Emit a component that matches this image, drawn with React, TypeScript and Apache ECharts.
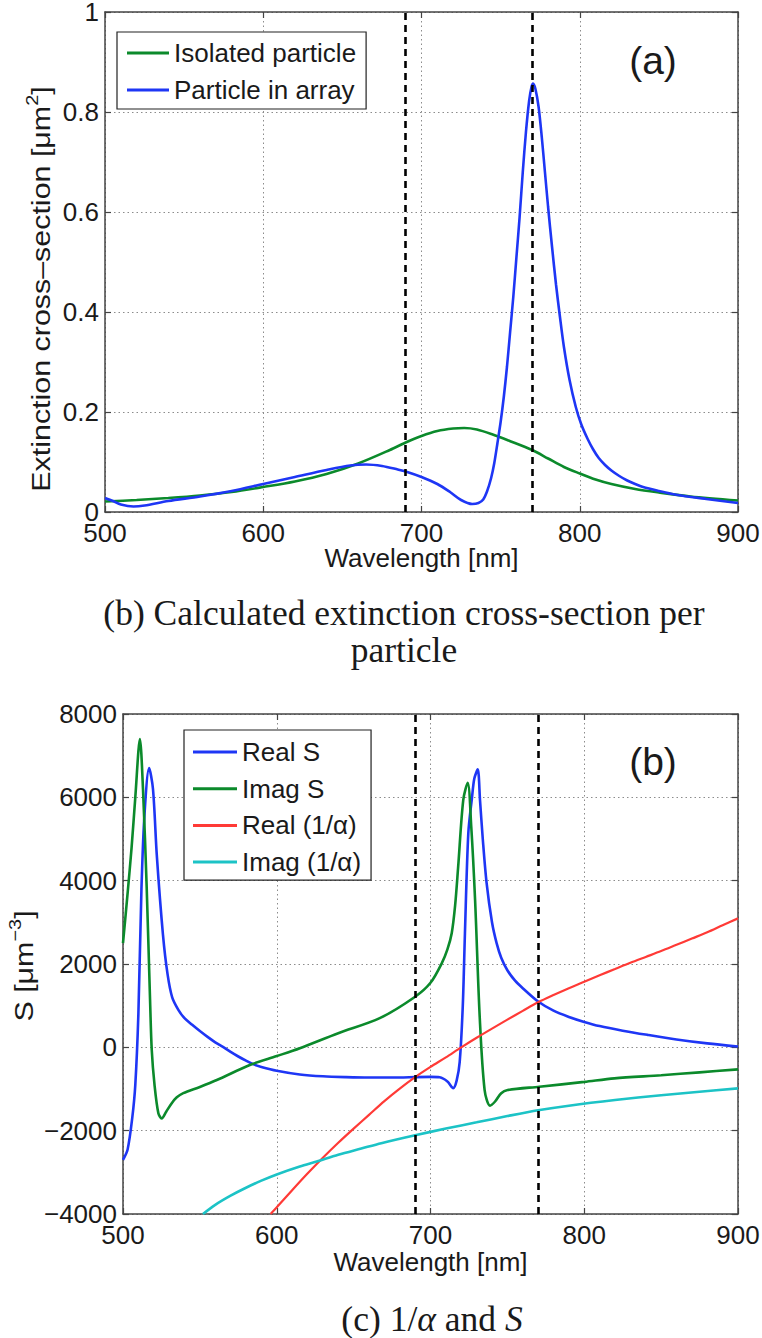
import React, { useEffect, useRef } from 'react';
import * as echarts from 'echarts';

// ---------- data ----------
const markerWavelengths = [690, 770];

// (a) extinction cross-section
const isolatedWl = [500, 520, 540, 560, 580, 600, 620, 640, 660, 680, 690, 700, 710, 720, 727, 735, 745, 755, 770, 780, 790, 800, 810, 820, 835, 850, 870, 900];
const isolatedExt = [0.021, 0.024, 0.028, 0.033, 0.040, 0.050, 0.061, 0.076, 0.097, 0.124, 0.139, 0.152, 0.162, 0.167, 0.168, 0.165, 0.155, 0.143, 0.124, 0.107, 0.090, 0.077, 0.065, 0.056, 0.046, 0.039, 0.031, 0.023];

const arrayWl = [500, 505, 510, 518, 525, 540, 560, 580, 600, 620, 640, 655, 665, 675, 685, 690, 700, 710, 718, 725, 732, 736, 739, 741.5, 744, 746, 748, 750, 752, 754, 756, 758, 760, 762, 764, 766, 768, 769.5, 770.5, 772, 774, 776, 778, 780, 782.5, 785, 787.5, 790, 793.5, 797.5, 801, 805, 808.5, 812, 816, 820, 825, 830, 835, 840, 850, 860, 880, 900];
const arrayExt = [0.028, 0.022, 0.015, 0.011, 0.013, 0.022, 0.031, 0.042, 0.056, 0.070, 0.084, 0.093, 0.095, 0.092, 0.085, 0.081, 0.070, 0.056, 0.040, 0.024, 0.016, 0.018, 0.025, 0.042, 0.068, 0.098, 0.138, 0.180, 0.230, 0.290, 0.360, 0.430, 0.510, 0.590, 0.680, 0.760, 0.822, 0.850, 0.857, 0.846, 0.810, 0.750, 0.680, 0.610, 0.530, 0.455, 0.390, 0.330, 0.265, 0.210, 0.175, 0.146, 0.125, 0.108, 0.094, 0.083, 0.072, 0.063, 0.056, 0.050, 0.042, 0.035, 0.026, 0.018];

// (b) lattice sum S and inverse polarizability
const realSWl = [500, 503, 506, 508, 510, 512, 514, 517, 519.5, 522, 526, 529, 532, 536, 540, 545, 550, 555, 560, 565, 570, 575, 580, 585, 590, 600, 615, 630, 645, 660, 680, 690, 700, 706, 711, 714.8, 717, 719, 721, 722.4, 724.6, 727, 728.5, 730.7, 732.2, 734, 736.5, 740, 743, 746, 750, 755, 760, 770, 780, 790, 800, 810, 825, 841, 860, 880, 900];
const realS = [-2700, -2450, -1700, -900, 800, 3800, 5600, 6700, 6200, 4600, 2700, 1750, 1200, 900, 700, 540, 390, 250, 120, 10, -110, -220, -320, -410, -470, -560, -650, -695, -715, -725, -725, -715, -710, -720, -820, -980, -800, -350, 1000, 2740, 5140, 6000, 6450, 6670, 5935, 5000, 3940, 3000, 2500, 2150, 1850, 1600, 1420, 1100, 880, 730, 610, 510, 400, 300, 190, 95, 20];

const imagSWl = [500, 503, 505.6, 508, 511, 513, 515.4, 517.6, 518.7, 520.5, 523, 525.2, 528, 531.7, 535, 539.2, 550, 561, 582.5, 600, 615, 640, 667, 690, 700, 707.3, 711, 713.8, 716, 718, 721.3, 724.2, 726.5, 729, 732, 735.2, 738.7, 742, 746, 750.2, 770.8, 800, 819.6, 850, 875, 900];
const imagS = [2500, 3700, 4800, 6000, 7400, 6200, 3850, 1135, -65, -900, -1580, -1705, -1550, -1340, -1200, -1100, -950, -785, -425, -210, -20, 340, 700, 1215, 1550, 2015, 2350, 2740, 3400, 4335, 5935, 6350, 5300, 3535, 735, -1025, -1400, -1300, -1100, -1025, -945, -830, -745, -670, -600, -530];

const realInvWl = [596, 600, 610, 620, 630, 640, 650, 660, 670, 680, 690, 700, 710, 720, 730, 740, 750, 760, 770, 780, 790, 800, 810, 820, 830, 840, 850, 860, 870, 880, 890, 900];
const realInv = [-4000, -3840, -3430, -3030, -2650, -2290, -1950, -1620, -1290, -990, -715, -470, -240, 0, 230, 450, 665, 875, 1080, 1255, 1420, 1575, 1730, 1880, 2030, 2170, 2310, 2460, 2610, 2760, 2930, 3095];

const imagInvWl = [552, 560, 570, 580, 590, 600, 615, 626, 640, 655, 668, 690, 710, 730, 750, 770, 790, 820, 850, 875, 900];
const imagInv = [-4000, -3780, -3560, -3370, -3200, -3050, -2860, -2740, -2580, -2430, -2300, -2110, -1950, -1800, -1650, -1510, -1400, -1265, -1150, -1065, -985];

const legendA = ['Isolated particle', 'Particle in array'];
const legendB = ['Real S', 'Imag S', 'Real (1/α)', 'Imag (1/α)'];

// ---------- styling ----------
const FONT = '"Liberation Sans", Arial, Helvetica, sans-serif';
const SERIF = '"Liberation Serif", "Times New Roman", serif';
const AXIS = '#444';
const TEXT = '#1a1a1a';
const GRIDC = '#8c8c8c';
const BLUE = '#1e36f5';
const GREEN = '#0b8a2b';
const RED = '#ff3a36';
const CYAN = '#1cc3c6';

const zip = (xs: number[], ys: number[]) => xs.map((x, i) => [x, ys[i]]);
const minusFmt = (v: number) => (v < 0 ? '\u2212' + Math.abs(v) : String(v));

function xAxes(gridIndex: number) {
  const common = {
    type: 'value', gridIndex, min: 500, max: 900, interval: 100,
    axisLine: { show: true, onZero: false, lineStyle: { color: AXIS, width: 1.5 } },
    axisTick: { show: true, inside: true, length: 6, lineStyle: { color: AXIS, width: 1.2 } },
  };
  return [
    {
      ...common, position: 'bottom',
      axisLabel: { show: true, color: TEXT, fontSize: 26, fontFamily: FONT, margin: 8, showMinLabel: true, showMaxLabel: true, hideOverlap: false },
      splitLine: { show: true, lineStyle: { color: GRIDC, type: [1.5, 3], width: 1 } },
    },
    { ...common, position: 'top', axisLabel: { show: false }, splitLine: { show: false } },
  ];
}

function yAxes(gridIndex: number, min: number, max: number, interval: number, fmt?: (v: number) => string) {
  const common = {
    type: 'value', gridIndex, min, max, interval,
    axisLine: { show: true, onZero: false, lineStyle: { color: AXIS, width: 1.5 } },
    axisTick: { show: true, inside: true, length: 6, lineStyle: { color: AXIS, width: 1.2 } },
  };
  return [
    {
      ...common, position: 'left',
      axisLabel: { show: true, color: TEXT, fontSize: 26, fontFamily: FONT, margin: 6, formatter: fmt, showMinLabel: true, showMaxLabel: true, hideOverlap: false },
      splitLine: { show: true, lineStyle: { color: GRIDC, type: [1.5, 3], width: 1 } },
    },
    { ...common, position: 'right', axisLabel: { show: false }, splitLine: { show: false } },
  ];
}

function lineSeries(name: string, data: number[][], color: string, width: number, axis: number, extra: any = {}) {
  return {
    name, type: 'line', xAxisIndex: axis, yAxisIndex: axis, data,
    symbol: 'none', showSymbol: false, smooth: 0.3, clip: true,
    lineStyle: { color, width }, itemStyle: { color },
    ...extra,
  };
}

const markers = {
  silent: true, symbol: ['none', 'none'], label: { show: false },
  lineStyle: { color: '#000', type: [7, 5], width: 2.6 },
  data: markerWavelengths.map((w) => ({ xAxis: w })),
};

const legendBase = {
  orient: 'vertical', backgroundColor: '#fff', borderColor: '#222', borderWidth: 1.2, borderRadius: 0,
  itemWidth: 42, itemHeight: 3, icon: 'rect', selectedMode: false,
  textStyle: { fontSize: 26, fontFamily: FONT, color: TEXT, lineHeight: 30 },
};

const textEl = (text: string, x: number, y: number, size: number, family: string, extra: any = {}) => ({
  type: 'text', x, y, silent: true,
  style: { text, fontSize: size, fontFamily: family, fill: TEXT, align: 'center', verticalAlign: 'middle', textAlign: 'center', textVerticalAlign: 'middle', ...extra },
});

const option: any = {
  animation: false,
  backgroundColor: '#fff',
  grid: [
    { left: 105, top: 12, width: 633, height: 500, outerBoundsMode: 'none' },
    { left: 123, top: 714, width: 615, height: 500, outerBoundsMode: 'none' },
  ],
  xAxis: [...xAxes(0), ...xAxes(1)],
  yAxis: [...yAxes(0, 0, 1, 0.2), ...yAxes(1, -4000, 8000, 2000, minusFmt)],
  legend: [
    { ...legendBase, data: legendA, left: 117, top: 32, padding: [6, 10, 4, 10], itemGap: 7 },
    { ...legendBase, data: legendB, left: 184, top: 730, padding: [7, 10, 3, 9], itemGap: 6.7, itemWidth: 44 },
  ],
  series: [
    lineSeries(legendA[0], zip(isolatedWl, isolatedExt), GREEN, 2.6, 0),
    lineSeries(legendA[1], zip(arrayWl, arrayExt), BLUE, 2.6, 0, { markLine: markers }),
    lineSeries(legendB[0], zip(realSWl, realS), BLUE, 2.6, 2),
    lineSeries(legendB[1], zip(imagSWl, imagS), GREEN, 2.6, 2),
    lineSeries(legendB[2], zip(realInvWl, realInv), RED, 2.2, 2),
    lineSeries(legendB[3], zip(imagInvWl, imagInv), CYAN, 2.6, 2, { markLine: markers }),
  ],
  graphic: [
    textEl('(a)', 653, 60, 39, FONT),
    textEl('(b)', 653, 761, 39, FONT),
    textEl('Wavelength [nm]', 421.5, 558, 26, FONT),
    textEl('Wavelength [nm]', 430.5, 1262, 26, FONT),
    {
      type: 'text', x: 41, y: 289, rotation: Math.PI / 2, scaleX: 1.17, silent: true,
      style: {
        text: '{n|Extinction cross\u2013section [\u03bcm}{s|2}{n|]}',
        fill: TEXT, align: 'center', verticalAlign: 'middle', textAlign: 'center', textVerticalAlign: 'middle',
        fontSize: 26, fontFamily: FONT,
        rich: {
          n: { fontSize: 26, fontFamily: FONT, fill: TEXT, color: TEXT },
          s: { fontSize: 17, fontFamily: FONT, fill: TEXT, color: TEXT, padding: [0, 0, 18, 0] },
        },
      },
    },
    {
      type: 'text', x: 24, y: 966, rotation: Math.PI / 2, scaleX: 1.17, silent: true,
      style: {
        text: '{n|S [\u03bcm}{s|\u22123}{n|]}',
        fill: TEXT, align: 'center', verticalAlign: 'middle', textAlign: 'center', textVerticalAlign: 'middle',
        fontSize: 26, fontFamily: FONT,
        rich: {
          n: { fontSize: 26, fontFamily: FONT, fill: TEXT, color: TEXT },
          s: { fontSize: 17, fontFamily: FONT, fill: TEXT, color: TEXT, padding: [0, 0, 18, 0] },
        },
      },
    },
    textEl('(b) Calculated extinction cross-section per', 404, 613, 35.5, SERIF),
    textEl('particle', 404, 650, 35.5, SERIF),
    {
      type: 'text', x: 432, y: 1319, silent: true,
      style: {
        text: '{n|(c) 1/}{i|\u03b1}{n| and }{i|S}',
        fill: TEXT, align: 'center', verticalAlign: 'middle', textAlign: 'center', textVerticalAlign: 'middle',
        fontSize: 35.5, fontFamily: SERIF,
        rich: {
          n: { fontSize: 35.5, fontFamily: SERIF, fill: TEXT, color: TEXT },
          i: { fontSize: 35.5, fontFamily: SERIF, fontStyle: 'italic', fill: TEXT, color: TEXT },
        },
      },
    },
  ],
};

export default function App() {
  const ref = useRef<HTMLDivElement>(null);
  useEffect(() => {
    if (!ref.current) return;
    const chart = echarts.init(ref.current, null, { renderer: 'svg' });
    chart.setOption(option);
    return () => chart.dispose();
  }, []);
  return (
    <div
      ref={ref}
      style={{ position: 'absolute', left: 0, top: 0, width: 762, height: 1338, background: '#fff' }}
    />
  );
}
